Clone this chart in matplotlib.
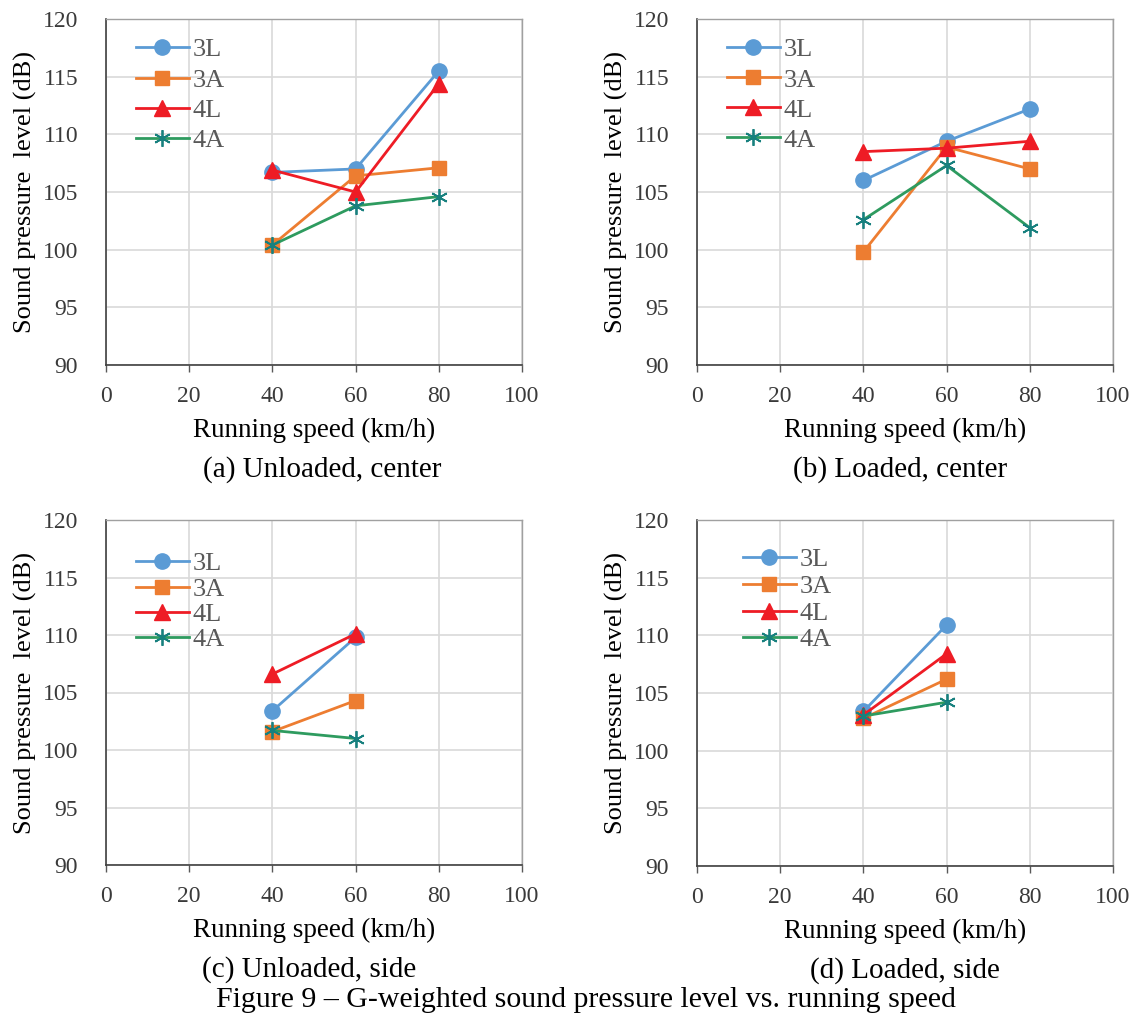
import matplotlib
matplotlib.use("Agg")
import matplotlib.pyplot as plt

plt.rcParams['font.family'] = ['Liberation Serif', 'DejaVu Serif']

speeds_full = [40, 60, 80]
speeds_side = [40, 60]
series_names = ["3L", "3A", "4L", "4A"]

a_3L = [106.7, 107.0, 115.5]
a_3A = [100.4, 106.4, 107.1]
a_4L = [106.9, 105.0, 114.4]
a_4A = [100.4, 103.8, 104.6]

b_3L = [106.0, 109.4, 112.2]
b_3A = [99.8, 108.9, 107.0]
b_4L = [108.5, 108.8, 109.4]
b_4A = [102.6, 107.3, 101.9]

c_3L = [103.4, 109.8]
c_3A = [101.6, 104.3]
c_4L = [106.6, 110.1]
c_4A = [101.7, 101.0]

d_3L = [103.4, 110.9]
d_3A = [102.8, 106.2]
d_4L = [103.1, 108.4]
d_4A = [103.0, 104.2]

captions = ["(a) Unloaded, center", "(b) Loaded, center",
            "(c) Unloaded, side", "(d) Loaded, side"]
x_ticks = [0, 20, 40, 60, 80, 100]
y_ticks = [90, 95, 100, 105, 110, 115, 120]
title = "Figure 9 \u2013 G-weighted sound pressure level vs. running speed"

styles = {
    "3L": dict(color="#5B9BD5", marker="o", markersize=11, mfc="#5B9BD5", mec="#5B9BD5"),
    "3A": dict(color="#ED7D31", marker="s", markersize=10, mfc="#ED7D31", mec="#ED7D31"),
    "4L": dict(color="#EE1C25", marker="^", markersize=11, mfc="#EE1C25", mec="#EE1C25"),
    "4A": dict(color="#2E9B5F", marker=(6, 2, 0), markersize=12, mfc="#17807E", mec="#17807E", mew=1.3),
}

panels = [
    (speeds_full, [a_3L, a_3A, a_4L, a_4A]),
    (speeds_full, [b_3L, b_3A, b_4L, b_4A]),
    (speeds_side, [c_3L, c_3A, c_4L, c_4A]),
    (speeds_side, [d_3L, d_3A, d_4L, d_4A]),
]

W, H = 1138, 1019
fig = plt.figure(figsize=(W / 100, H / 100), dpi=100)

# axes rectangles in pixels: left, top, right, bottom
rects = [(106, 19, 522, 365), (697, 19, 1113, 365),
         (106, 520, 522, 865), (697, 520, 1113, 866)]
# legend upper-left corner offset in pixels from axes top-left, and row spacing
legend_off = [(30, 19), (30, 19), (30, 32), (46, 28)]
legend_spacing = [0.26, 0.25, 0.07, 0.12]
caption_cx = [322, 900, 309, 905]

gray = "#595959"
for i, ((l, t, r, b), (xs, ys_list)) in enumerate(zip(rects, panels)):
    ax = fig.add_axes([l / W, 1 - b / H, (r - l) / W, (b - t) / H])
    for name, ys in zip(series_names, ys_list):
        ax.plot(xs, ys, label=name, linewidth=2, **styles[name])
    ax.set_xlim(0, 100)
    ax.set_ylim(90, 120)
    ax.set_xticks(x_ticks)
    ax.set_yticks(y_ticks)
    ax.grid(True, color="#D9D9D9", linewidth=1.2)
    ax.set_axisbelow(True)
    ax.tick_params(axis="x", length=5, width=1, color=gray, labelsize=17,
                   labelcolor="#3A3A3A", pad=10, direction="out")
    ax.tick_params(axis="y", length=0, labelsize=17, labelcolor="#3A3A3A", pad=20)
    for s in ["left", "bottom"]:
        ax.spines[s].set_color("#404040")
        ax.spines[s].set_linewidth(1.2)
    for s in ["top", "right"]:
        ax.spines[s].set_color("#A0A0A0")
        ax.spines[s].set_linewidth(1.0)
    ax.set_xlabel("Running speed (km/h)", fontsize=19.5, labelpad=8, color="black")
    ax.set_ylabel("Sound pressure  level (dB)", fontsize=19, labelpad=4, color="black")
    ox, oy = legend_off[i]
    leg = ax.legend(loc="upper left",
                    bbox_to_anchor=(ox / (r - l), 1 - oy / (b - t)), frameon=False,
                    fontsize=19, handlelength=2.0, handletextpad=0.15,
                    labelspacing=legend_spacing[i], borderaxespad=0.0, borderpad=0.0)
    for txt in leg.get_texts():
        txt.set_color(gray)
    fig.text(caption_cx[i] / W, 1 - (b + 105) / H, captions[i],
             ha="center", va="center", fontsize=21)

fig.text(586 / W, 1 - 1000 / H, title, ha="center", va="center", fontsize=21.5)

fig.savefig("out.png", dpi=100)
